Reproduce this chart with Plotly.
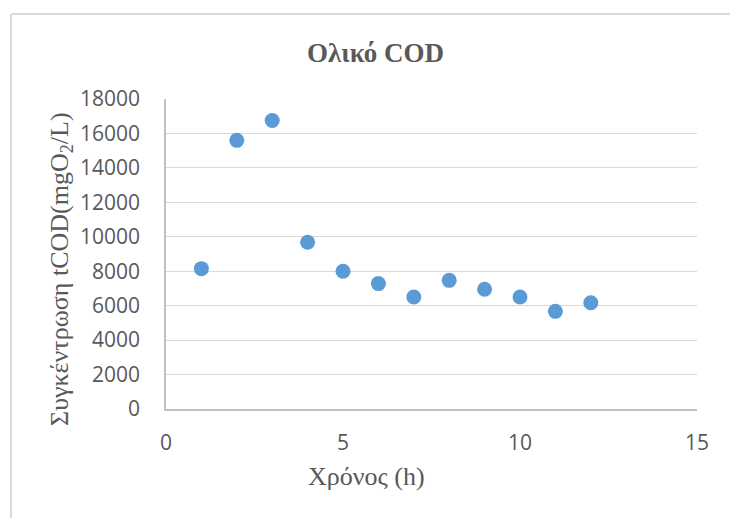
import plotly.graph_objects as go

# Sampling time (h) and total COD concentration (mgO2/L)
time_h = [1, 2, 3, 4, 5, 6, 7, 8, 9, 10, 11, 12]
tcod = [8150, 15600, 16750, 9680, 8000, 7280, 6500, 7470, 6950, 6500, 5670, 6170]

title_text = "Ολικό COD"
x_title = "Χρόνος (h)"
y_title = "Συγκέντρωση tCOD(mgO<sub>2</sub>/L)"

W, H = 730, 518
L, R, T, B = 166, 33, 99, 109
pw, ph = W - L - R, H - T - B


def px_x(px):
    return (px - L) / pw


def px_y(py):
    return (H - B - py) / ph


grey_text = "#595959"
serif = "Liberation Serif, Times New Roman, serif"
sans = "Open Sans, sans-serif"

fig = go.Figure(
    go.Scatter(
        x=time_h,
        y=tcod,
        mode="markers",
        marker=dict(size=15, color="#5B9BD5"),
        showlegend=False,
    )
)

fig.update_layout(
    width=W,
    height=H,
    margin=dict(l=L, r=R, t=T, b=B),
    paper_bgcolor="white",
    plot_bgcolor="white",
    xaxis=dict(
        range=[0, 15],
        dtick=5,
        tickformat="d",
        showgrid=False,
        zeroline=False,
        showline=True,
        linecolor="#BFBFBF",
        linewidth=1.5,
        ticks="outside",
        ticklen=14,
        tickcolor="rgba(0,0,0,0)",
        tickfont=dict(family=sans, size=21, color=grey_text),
    ),
    yaxis=dict(
        range=[0, 18000],
        dtick=2000,
        tickformat="d",
        showgrid=True,
        gridcolor="#D9D9D9",
        gridwidth=1.3,
        zeroline=False,
        showline=True,
        linecolor="#BFBFBF",
        linewidth=1.5,
        ticks="outside",
        ticklen=20,
        tickcolor="rgba(0,0,0,0)",
        tickfont=dict(family=sans, size=21, color=grey_text),
    ),
    annotations=[
        dict(
            text="<b>" + title_text + "</b>",
            xref="paper", yref="paper",
            x=px_x(375), y=px_y(52.5),
            xanchor="center", yanchor="middle",
            showarrow=False,
            font=dict(family=serif, size=27, color=grey_text),
        ),
        dict(
            text=x_title,
            xref="paper", yref="paper",
            x=px_x(366), y=px_y(476),
            xanchor="center", yanchor="middle",
            showarrow=False,
            font=dict(family=serif, size=26, color=grey_text),
        ),
        dict(
            text=y_title,
            xref="paper", yref="paper",
            x=px_x(61), y=px_y(269),
            xanchor="center", yanchor="middle",
            textangle=-90,
            showarrow=False,
            font=dict(family=serif, size=26, color=grey_text),
        ),
    ],
    shapes=[
        # chart frame (left and top edges)
        dict(type="line", xref="paper", yref="paper",
             x0=px_x(11), x1=px_x(11), y0=px_y(14), y1=px_y(530),
             line=dict(color="#D9D9D9", width=2)),
        dict(type="line", xref="paper", yref="paper",
             x0=px_x(11), x1=px_x(740), y0=px_y(14), y1=px_y(14),
             line=dict(color="#D9D9D9", width=2)),
    ],
)

fig.write_html("out.html")
